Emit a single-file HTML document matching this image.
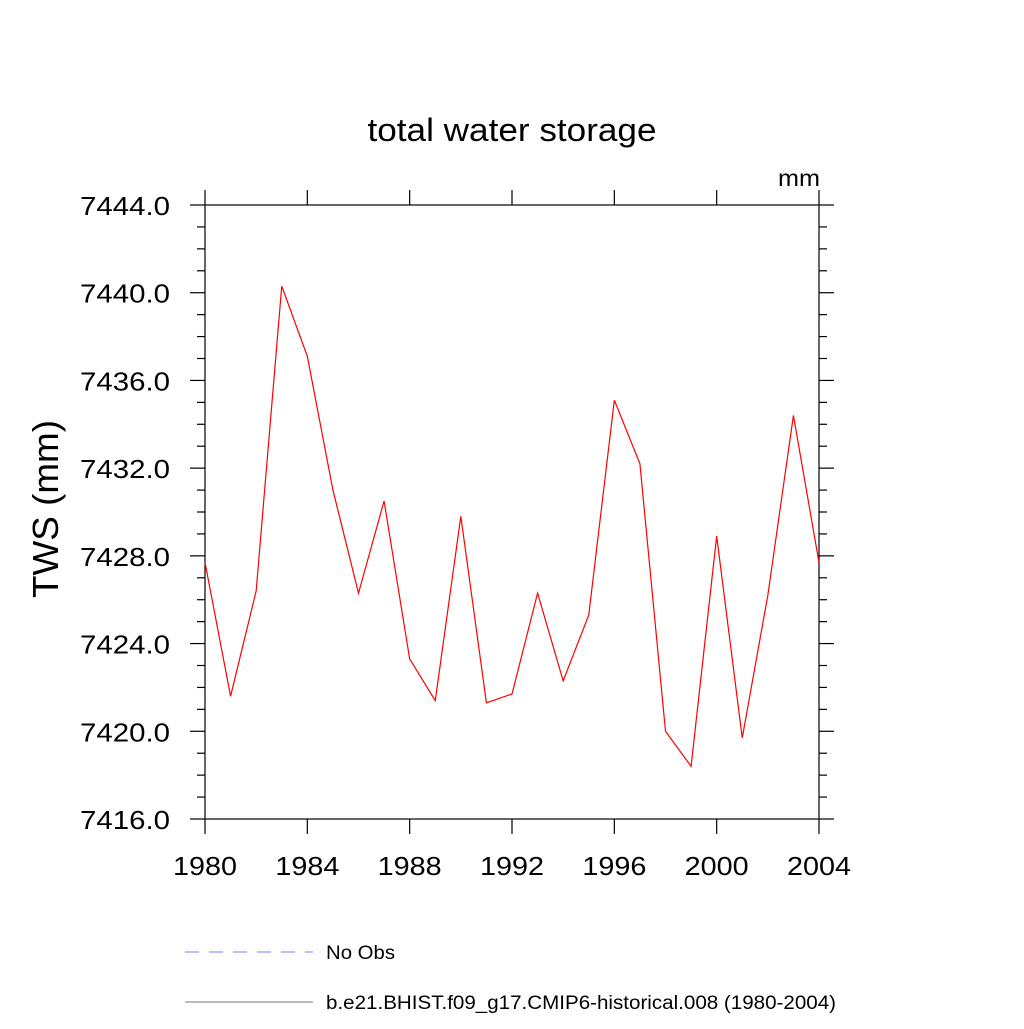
<!DOCTYPE html>
<html><head><meta charset="utf-8"><style>body{margin:0;background:#fff}</style></head>
<body>
<svg id="c" width="1024" height="1024" xmlns="http://www.w3.org/2000/svg" font-family="Liberation Sans, sans-serif">
<text x="512" y="141" font-size="32" text-anchor="middle" textLength="289" lengthAdjust="spacingAndGlyphs">total water storage</text>
<text x="820" y="186" font-size="23" text-anchor="end" textLength="42" lengthAdjust="spacingAndGlyphs">mm</text>
<text transform="translate(58,509) rotate(-90)" font-size="36" text-anchor="middle" textLength="178" lengthAdjust="spacingAndGlyphs">TWS  (mm)</text>
<rect x="205" y="205" width="614" height="614" fill="none" stroke="#000" stroke-width="1.2"/>
<g id="ax"></g>
<polyline id="line" fill="none" stroke="#f00" stroke-width="1.2"/>
<line x1="185" y1="952" x2="313" y2="952" stroke="#77f" stroke-dasharray="14,10"/>
<text x="326" y="959" font-size="19" textLength="69" lengthAdjust="spacingAndGlyphs">No Obs</text>
<line x1="185" y1="1002" x2="313" y2="1002" stroke="#777"/>
<text x="326" y="1009" font-size="19" textLength="510" lengthAdjust="spacingAndGlyphs">b.e21.BHIST.f09_g17.CMIP6-historical.008 (1980-2004)</text>
</svg>
<script>
const years=[1980,1981,1982,1983,1984,1985,1986,1987,1988,1989,1990,1991,1992,1993,1994,1995,1996,1997,1998,1999,2000,2001,2002,2003,2004];
const tws=[7427.7,7421.6,7426.4,7440.3,7437.1,7431.0,7426.3,7430.5,7423.3,7421.4,7429.8,7421.3,7421.7,7426.3,7422.3,7425.3,7435.1,7432.2,7420.0,7418.4,7428.9,7419.7,7426.2,7434.4,7427.7];
const xTicks=[1980,1984,1988,1992,1996,2000,2004];
const yTicks=[7416,7420,7424,7428,7432,7436,7440,7444];
const X=v=>205+(v-1980)/24*614;
const Y=v=>819-(v-7416)/28*614;
const NS='http://www.w3.org/2000/svg';
const ax=document.getElementById('ax');
function ln(x1,y1,x2,y2,name){const l=document.createElementNS(NS,'line');
l.setAttribute('x1',x1);l.setAttribute('y1',y1);l.setAttribute('x2',x2);l.setAttribute('y2',y2);
l.setAttribute('stroke','#000');l.setAttribute('stroke-width','1.2');


ax.appendChild(l);}
function tx(x,y,s,anchor,len,name){const t=document.createElementNS(NS,'text');
t.setAttribute('x',x);t.setAttribute('y',y);t.setAttribute('font-size','26');t.setAttribute('text-anchor',anchor);
t.setAttribute('textLength',len);t.setAttribute('lengthAdjust','spacingAndGlyphs');t.textContent=s;


ax.appendChild(t);}
xTicks.forEach(v=>{const x=X(v);ln(x,819,x,834,'x-tick');ln(x,205,x,190,'x-tick-top');tx(x,875,String(v),'middle',64,'x-tick-label');});
for(let v=7416;v<=7444;v++){const y=Y(v);const maj=(v-7416)%4===0;const L=maj?15:8;
ln(205,y,205-L,y,'y-tick');ln(819,y,819+L,y,'y-tick-right');}
yTicks.forEach(v=>{tx(170,Y(v)+10,v.toFixed(1),'end',90,'y-tick-label');});
const line=document.getElementById('line');
line.setAttribute('points',years.map((y,i)=>X(y)+','+Y(tws[i])).join(' '));
</script>
</body></html>
